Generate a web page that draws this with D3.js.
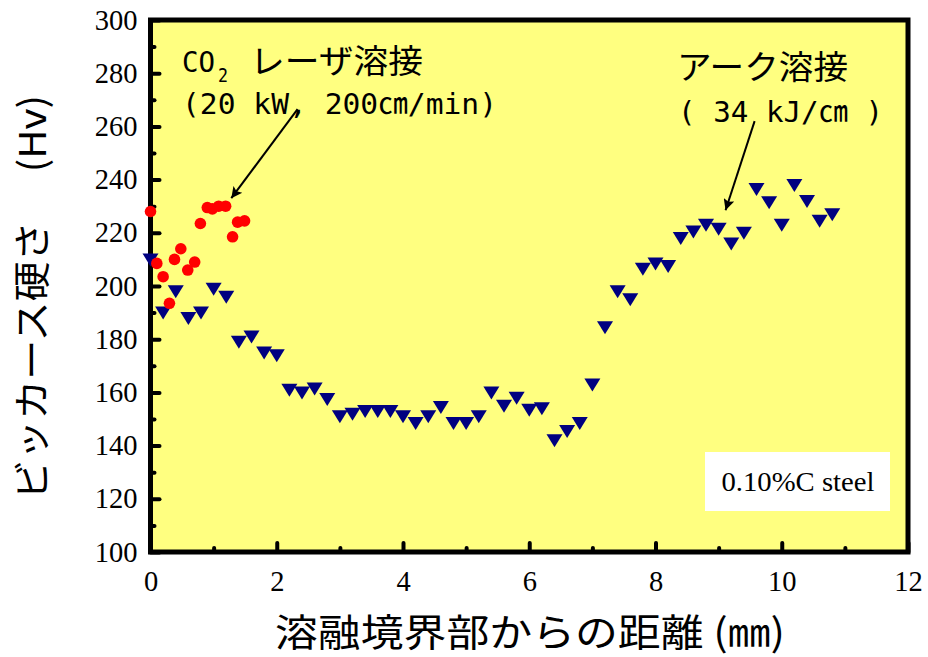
<!DOCTYPE html>
<html><head><meta charset="utf-8">
<script src="https://cdn.jsdelivr.net/npm/d3@7/dist/d3.min.js"></script>
<style>body{margin:0;background:#fff}svg{display:block}</style>
</head><body>
<svg id="c" width="928" height="657"></svg>
<script>
// ---- data ----
const laserX = [0,0.1,0.2,0.3,0.38,0.48,0.59,0.7,0.79,0.9,0.98,1.08,1.19,1.3,1.38,1.49];
const laserY = [228,208.5,203.5,193.5,210,214,206,209,223.5,229.5,229,230,230,218.5,224,224.5];
const arcX = [0,0.2,0.4,0.6,0.8,1.0,1.2,1.4,1.6,1.8,2.0,2.2,2.4,2.6,2.8,3.0,3.2,3.4,3.6,3.8,4.0,4.2,4.4,4.6,4.8,5.0,5.2,5.4,5.6,5.8,6.0,6.2,6.4,6.6,6.8,7.0,7.2,7.4,7.6,7.8,8.0,8.2,8.4,8.6,8.8,9.0,9.2,9.4,9.6,9.8,10.0,10.2,10.4,10.6,10.8];
const arcY = [210,190,198,188,190,199,196,179,181,175,174,161,160,161.5,157.5,151,152,153,153,153,151,148.5,151,154.5,148.5,148.5,151,160,155,158,153.5,154,142,145.5,148.5,163,184.5,198,195,206.5,208.5,207.5,218,220.5,223,221.5,216,220,236.5,231.5,223,238,232,224.5,227];
const xTicks = [0,2,4,6,8,10,12];
const yTicks = [100,120,140,160,180,200,220,240,260,280,300];
const xMinor = [1,3,5,7,9,11];
const yMinor = [110,130,150,170,190,210,230,250,270,290];
// annotation arrows (data units): [x1,y1,x2,y2]
const arrowLaser = [2.33,266.5,1.28,233];
const arrowArc = [9.57,262,9.11,228.5];

const svg = d3.select("#c");
const x = d3.scaleLinear().domain([0,12]).range([150.5,908]);
const y = d3.scaleLinear().domain([100,300]).range([552,20]);
const JP = "'Noto Sans CJK JP','Noto Sans',sans-serif";
const MONO = "'DejaVu Sans Mono','Noto Sans CJK JP',monospace";
const SERIF = "'Liberation Serif','Times New Roman',serif";

svg.append("defs").append("marker").attr("id","ah").attr("viewBox","0 0 10 10")
  .attr("refX",10).attr("refY",5).attr("markerWidth",9).attr("markerHeight",5.5)
  .attr("markerUnits","strokeWidth").attr("orient","auto")
  .append("path").attr("d","M0,0 L10,5 L0,10 L2,5 Z").attr("fill","#000");

// background
svg.append("rect").attr("x",x(0)).attr("y",y(300)).attr("width",x(12)-x(0)).attr("height",y(100)-y(300))
  .attr("fill","#ffff80");

// axes (inward ticks)
function styleAxis(g){ g.select(".domain").remove(); g.selectAll("line").attr("stroke","#000").attr("stroke-width",4).attr("stroke-linecap","round"); }
const gy = svg.append("g").attr("transform",`translate(${x(0)},0)`)
  .call(d3.axisLeft(y).tickValues(yTicks).tickSize(-9).tickPadding(13).tickFormat(d3.format("d")));
styleAxis(gy);
gy.selectAll("text").attr("font-family",SERIF).attr("font-size",28.5).attr("fill","#000");
const gym = svg.append("g").attr("transform",`translate(${x(0)},0)`)
  .call(d3.axisLeft(y).tickValues(yMinor).tickSize(-4).tickFormat(""));
styleAxis(gym);
const gx = svg.append("g").attr("transform",`translate(0,${y(100)})`)
  .call(d3.axisBottom(x).tickValues(xTicks).tickSize(-9).tickPadding(19).tickFormat(d3.format("d")));
styleAxis(gx);
gx.selectAll("text").attr("font-family",SERIF).attr("font-size",28.5).attr("fill","#000");
const gxm = svg.append("g").attr("transform",`translate(0,${y(100)})`)
  .call(d3.axisBottom(x).tickValues(xMinor).tickSize(-4).tickFormat(""));
styleAxis(gxm);

// frame
svg.append("rect").attr("x",x(0)).attr("y",y(300)).attr("width",x(12)-x(0)).attr("height",y(100)-y(300))
  .attr("fill","none").attr("stroke","#000").attr("stroke-width",5);

// data
const laser = laserX.map((v,i)=>({x:v,y:laserY[i]}));
const arc = arcX.map((v,i)=>({x:v,y:arcY[i]}));
svg.append("g").selectAll("path").data(arc).join("path")
  .attr("d",d=>{const cx=x(d.x), cy=y(d.y); return `M${cx-8},${cy-6}L${cx+8},${cy-6}L${cx},${cy+7}Z`;})
  .attr("fill","#000080");
svg.append("g").selectAll("circle").data(laser).join("circle")
  .attr("cx",d=>x(d.x)).attr("cy",d=>y(d.y)).attr("r",5.8).attr("fill","#ff0000");

// arrows
[arrowLaser, arrowArc].forEach(a=>{
  svg.append("line").attr("x1",x(a[0])).attr("y1",y(a[1])).attr("x2",x(a[2])).attr("y2",y(a[3]))
    .attr("stroke","#000").attr("stroke-width",2).attr("marker-end","url(#ah)");
});

// annotations
const t1 = svg.append("g").attr("fill","#000");
const l1 = t1.append("text").attr("font-family",JP);
l1.append("tspan").attr("x",182).attr("y",72).attr("font-family",MONO).attr("font-size",28).attr("textLength",33).attr("lengthAdjust","spacingAndGlyphs").text("CO");
l1.append("tspan").attr("x",218).attr("y",82).attr("font-family",MONO).attr("font-size",20).attr("textLength",10).attr("lengthAdjust","spacingAndGlyphs").text("2");
l1.append("tspan").attr("x",250).attr("y",73).attr("font-size",33).attr("textLength",173).attr("lengthAdjust","spacingAndGlyphs").text("レーザ溶接");
t1.append("text").attr("x",182).attr("y",114).attr("font-family",MONO).attr("font-size",29).attr("textLength",315).attr("lengthAdjust","spacingAndGlyphs").text("(20 kW, 200㎝/min)");
t1.append("text").attr("x",677).attr("y",79).attr("font-family",JP).attr("font-size",33).attr("textLength",171).attr("lengthAdjust","spacingAndGlyphs").text("アーク溶接");
t1.append("text").attr("x",678).attr("y",122).attr("font-family",MONO).attr("font-size",29).attr("textLength",205).attr("lengthAdjust","spacingAndGlyphs").text("( 34 kJ/㎝ )");

// steel label box
svg.append("rect").attr("x",705).attr("y",452).attr("width",185).attr("height",59).attr("fill","#fff");
svg.append("text").attr("x",798).attr("y",491).attr("text-anchor","middle").attr("font-family",SERIF)
  .attr("font-size",28).attr("textLength",153).attr("lengthAdjust","spacingAndGlyphs").attr("fill","#000").text("0.10%C steel");

// axis titles
svg.append("text").attr("x",275).attr("y",646).attr("font-family",JP).attr("font-size",38)
  .attr("textLength",510).attr("lengthAdjust","spacingAndGlyphs").attr("fill","#000").text("溶融境界部からの距離  (㎜)");
svg.append("text").attr("transform","translate(46,500) rotate(-90)").attr("font-family",JP).attr("font-size",37)
  .attr("textLength",405).attr("lengthAdjust","spacingAndGlyphs").attr("fill","#000").text("ビッカース硬さ　 (Hv)");
</script>
</body></html>
